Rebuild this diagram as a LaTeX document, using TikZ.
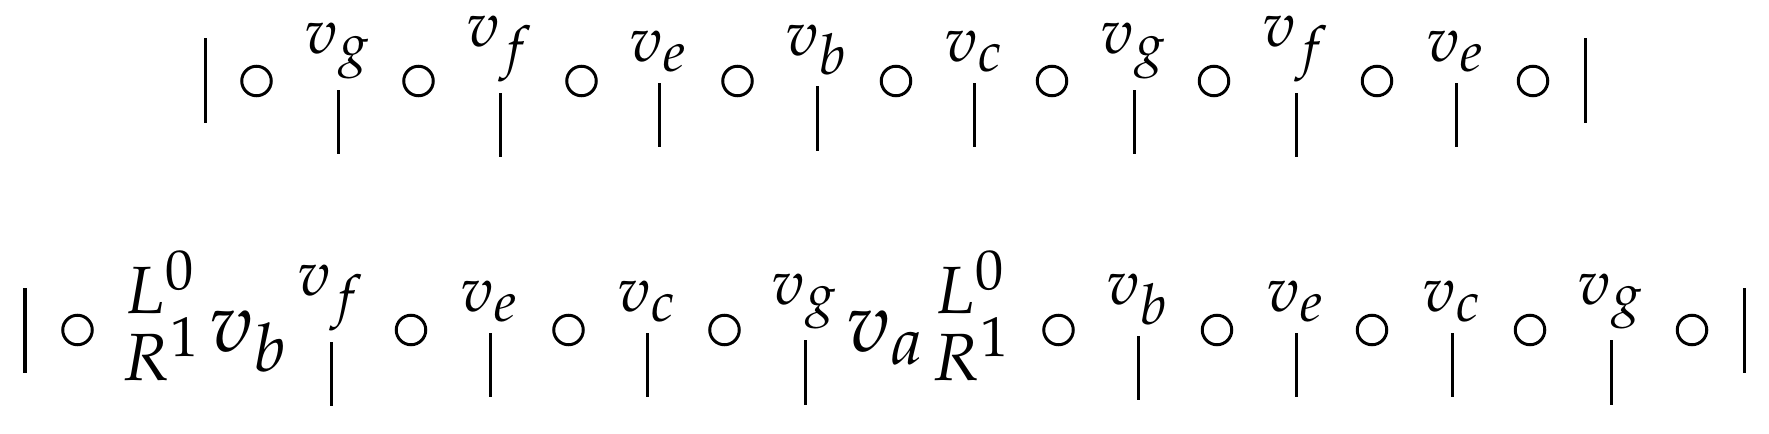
\documentclass[tikz,border=0pt]{standalone}
\usepackage{mathpazo}
\usetikzlibrary{positioning}
\DeclareMathSizes{18}{18}{16}{14}
\DeclareMathSizes{24}{24}{19}{14}
\DeclareMathSizes{19}{19}{16}{12}
\newcommand{\labfont}{\fontsize{18}{18}\selectfont}
\newcommand{\bigfont}{\fontsize{24}{24}\selectfont}
\newcommand{\lrfont}{\fontsize{19}{19}\selectfont}
\tikzset{
  hole/.style = {circle,draw=black,line width=0.85pt,inner sep=0pt,minimum size=0.295cm},
  wall/.style = {rectangle,fill=black,inner sep=0pt,minimum width=0.03cm,minimum height=0.85cm},
  notch/.style = {wall,minimum height=0.64cm},
  lab/.style = {inner sep=0pt,font=\labfont},
  big/.style = {inner sep=0pt,anchor=base west,font=\bigfont},
  lr/.style = {inner sep=0pt,anchor=base west,font=\lrfont},
}
\begin{document}
\begin{tikzpicture}[x=0.01cm,y=-0.01cm]
    \useasboundingbox (0,0) rectangle (1769,434);

    % top row
    \node[wall] at (205,80.5) (top-lb) {};
    \node[wall] at (1585,80.5) (top-rb) {};

    \node[hole] at (256.5,81) (top-o1) {};
    \node[hole] at (418.5,81) (top-o2) {};
    \node[hole] at (581.5,81) (top-o3) {};
    \node[hole] at (737.5,81) (top-o4) {};
    \node[hole] at (896,81) (top-o5) {};
    \node[hole] at (1052,81) (top-o6) {};
    \node[hole] at (1214,81) (top-o7) {};
    \node[hole] at (1377,81) (top-o8) {};
    \node[hole] at (1533,81) (top-o9) {};

    \node[notch] at (338,122) (top-n1) {};
    \node[notch] at (500,125) (top-n2) {};
    \node[notch] at (659,115) (top-n3) {};
    \node[notch] at (817,118.5) (top-n4) {};
    \node[notch] at (974,115) (top-n5) {};
    \node[notch] at (1134,122) (top-n6) {};
    \node[notch] at (1296,125) (top-n7) {};
    \node[notch] at (1456,115) (top-n8) {};

    \node[lab, above=0.1cm of top-n1] (top-v1) {$v_g$};
    \node[lab, above=0.1cm of top-n2] (top-v2) {$v_f$};
    \node[lab, above=0.1cm of top-n3] (top-v3) {$v_e$};
    \node[lab, above=0.1cm of top-n4] (top-v4) {$v_b$};
    \node[lab, above=0.1cm of top-n5] (top-v5) {$v_c$};
    \node[lab, above=0.1cm of top-n6] (top-v6) {$v_g$};
    \node[lab, above=0.1cm of top-n7] (top-v7) {$v_f$};
    \node[lab, above=0.1cm of top-n8] (top-v8) {$v_e$};

    % bottom row
    \node[wall] at (25,330.5) (bot-lb) {};
    \node[wall] at (1744,330.5) (bot-rb) {};

    \node[hole] at (77.5,330) (bot-o1) {};
    \node[hole] at (411,330) (bot-o2) {};
    \node[hole] at (568.5,330) (bot-o3) {};
    \node[hole] at (724.5,330) (bot-o4) {};
    \node[hole] at (1058.5,330) (bot-o5) {};
    \node[hole] at (1217,330) (bot-o6) {};
    \node[hole] at (1372,330) (bot-o7) {};
    \node[hole] at (1530,330) (bot-o8) {};
    \node[hole] at (1692,330) (bot-o9) {};

    \node[lr] at (124,314) (bot-l1) {$L^0$};
    \node[lr] at (122,381) (bot-r1) {$R^1$};
    \node[big] at (209,352) (bot-vb) {$v_b$};
    \node[big] at (846,352) (bot-va) {$v_a$};
    \node[lr] at (934,314) (bot-l2) {$L^0$};
    \node[lr] at (932,381) (bot-r2) {$R^1$};

    \node[notch] at (331,374) (bot-n1) {};
    \node[notch] at (490,365) (bot-n2) {};
    \node[notch] at (647,365) (bot-n3) {};
    \node[notch] at (805,372.5) (bot-n4) {};
    \node[notch] at (1138,368) (bot-n5) {};
    \node[notch] at (1296,365) (bot-n6) {};
    \node[notch] at (1452,365) (bot-n7) {};
    \node[notch] at (1611,372.5) (bot-n8) {};

    \node[lab, above=0.1cm of bot-n1] (bot-v1) {$v_f$};
    \node[lab, above=0.1cm of bot-n2] (bot-v2) {$v_e$};
    \node[lab, above=0.1cm of bot-n3] (bot-v3) {$v_c$};
    \node[lab, above=0.1cm of bot-n4] (bot-v4) {$v_g$};
    \node[lab, above=0.1cm of bot-n5] (bot-v5) {$v_b$};
    \node[lab, above=0.1cm of bot-n6] (bot-v6) {$v_e$};
    \node[lab, above=0.1cm of bot-n7] (bot-v7) {$v_c$};
    \node[lab, above=0.1cm of bot-n8] (bot-v8) {$v_g$};

\end{tikzpicture}
\end{document}
